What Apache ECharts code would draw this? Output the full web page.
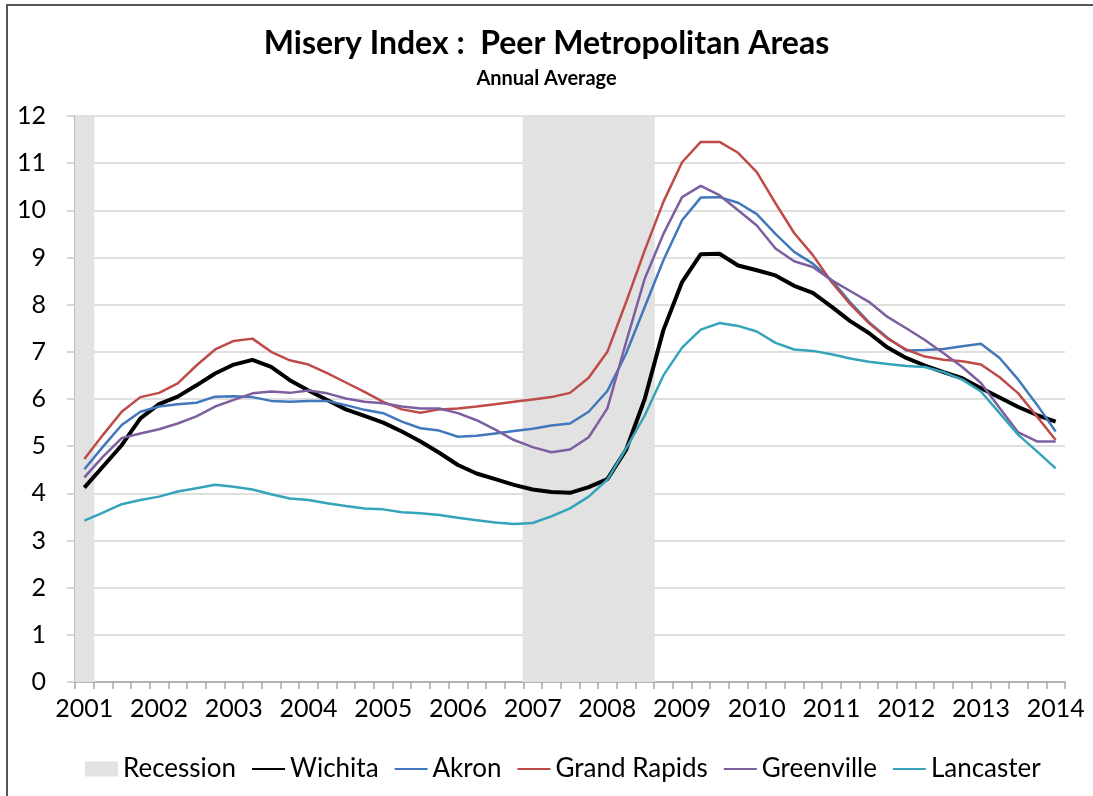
<!DOCTYPE html>
<html>
<head>
<meta charset="utf-8">
<script src="https://cdn.jsdelivr.net/npm/echarts@6/dist/echarts.min.js"></script>
<style>
html,body{margin:0;padding:0;background:#fff;}
#chart{width:1093px;height:796px;}
</style>
</head>
<body>
<div id="chart"></div>
<script>
// Tick labels (years) and quarterly categories
var years = ['2001','2002','2003','2004','2005','2006','2007','2008','2009','2010','2011','2012','2013','2014'];
var quarters = ['Q1','Q2','Q3','Q4'];

// Recession quarters: 2001Q1 and 2007Q1–2008Q3
var recessionQuarters = ['2001Q1','2007Q1','2007Q2','2007Q3','2007Q4','2008Q1','2008Q2','2008Q3'];

var wichita = [4.12,4.57,5.02,5.59,5.89,6.05,6.29,6.54,6.73,6.83,6.68,6.40,6.18,5.98,5.78,5.64,5.50,5.31,5.10,4.86,4.60,4.42,4.30,4.18,4.08,4.03,4.01,4.13,4.30,4.92,6.00,7.46,8.48,9.07,9.08,8.83,8.73,8.62,8.40,8.25,7.96,7.65,7.40,7.09,6.87,6.71,6.57,6.44,6.23,6.03,5.83,5.66,5.52];
var akron = [4.51,4.99,5.45,5.73,5.84,5.89,5.92,6.05,6.06,6.04,5.96,5.94,5.96,5.96,5.87,5.77,5.70,5.52,5.38,5.33,5.20,5.22,5.27,5.32,5.37,5.44,5.48,5.73,6.17,6.96,7.95,8.94,9.79,10.27,10.28,10.16,9.92,9.50,9.12,8.87,8.52,8.05,7.63,7.30,7.03,7.04,7.06,7.12,7.17,6.87,6.41,5.88,5.31];
var grandRapids = [4.73,5.24,5.73,6.04,6.13,6.33,6.71,7.05,7.23,7.28,7.00,6.82,6.73,6.55,6.35,6.15,5.94,5.78,5.71,5.78,5.80,5.84,5.89,5.94,5.99,6.04,6.13,6.45,7.00,8.05,9.15,10.18,11.02,11.45,11.45,11.22,10.81,10.15,9.52,9.05,8.48,8.01,7.61,7.28,7.05,6.90,6.83,6.80,6.73,6.46,6.12,5.63,5.13];
var greenville = [4.34,4.78,5.17,5.27,5.36,5.48,5.63,5.84,5.98,6.12,6.16,6.13,6.18,6.12,6.01,5.94,5.91,5.84,5.80,5.80,5.70,5.55,5.35,5.13,4.98,4.87,4.93,5.19,5.80,7.20,8.55,9.50,10.28,10.52,10.32,10.00,9.68,9.19,8.92,8.80,8.52,8.29,8.06,7.74,7.50,7.25,6.97,6.68,6.34,5.81,5.29,5.10,5.10];
var lancaster = [3.42,3.59,3.77,3.86,3.93,4.04,4.11,4.18,4.14,4.08,3.98,3.89,3.86,3.79,3.73,3.68,3.66,3.60,3.58,3.54,3.48,3.43,3.38,3.35,3.37,3.51,3.68,3.93,4.29,4.95,5.65,6.50,7.09,7.47,7.61,7.55,7.43,7.19,7.05,7.02,6.95,6.86,6.79,6.74,6.70,6.68,6.57,6.41,6.16,5.70,5.24,4.89,4.53];

var categories = [];
years.forEach(function(y){ quarters.forEach(function(q){ categories.push(y + q); }); });
categories = categories.slice(0, wichita.length);

var recession = categories.map(function(c){ return recessionQuarters.indexOf(c) >= 0 ? 12 : null; });

var FONT = 'Lato, "Open Sans", sans-serif';
var chart = echarts.init(document.getElementById('chart'), null, {renderer:'canvas'});

function lineSeries(name, data, color, width){
  return {name:name, type:'line', data:data, symbol:'none', showSymbol:false, smooth:false,
    lineStyle:{color:color, width:width}, itemStyle:{color:color}, z:3, animation:false};
}
function legendLine(name){ return {name:name, itemStyle:{opacity:0}}; }

chart.setOption({
  animation:false,
  backgroundColor:'#fff',
  title:[
    {text:'Misery Index :  Peer Metropolitan Areas', left:'center', top:23,
     textStyle:{fontFamily:FONT, fontSize:32, fontWeight:'bold', color:'#000'}},
    {text:'Annual Average', left:'center', top:64,
     textStyle:{fontFamily:FONT, fontSize:20, fontWeight:'bold', color:'#000'}}
  ],
  graphic:[{type:'rect', shape:{x:7, y:5, width:1200, height:900},
    style:{fill:'none', stroke:'#555', lineWidth:2}, silent:true, z:100}],
  grid:{left:75, right:28, top:116, bottom:114, containLabel:false},
  legend:{
    top:751, left:80, itemWidth:33, itemHeight:15, itemGap:15,
    textStyle:{fontFamily:FONT, fontSize:26, color:'#000'},
    data:[{name:'Recession', icon:'rect'}, legendLine('Wichita'), legendLine('Akron'),
          legendLine('Grand Rapids'), legendLine('Greenville'), legendLine('Lancaster')]
  },
  xAxis:{
    type:'category', data:categories, boundaryGap:true,
    axisLine:{show:true, lineStyle:{color:'#a6a6a6', width:1.5}},
    axisTick:{show:true, interval:0, length:7, lineStyle:{color:'#a6a6a6', width:1.5}},
    axisLabel:{interval:3, margin:14, fontFamily:FONT, fontSize:25, color:'#000',
      formatter:function(v){ return v.slice(0,4); }},
    splitLine:{show:false}
  },
  yAxis:{
    type:'value', min:0, max:12, interval:1,
    axisLine:{show:true, lineStyle:{color:'#a6a6a6', width:1.5}},
    axisTick:{show:true, length:8, lineStyle:{color:'#c8c8c8', width:1.5}},
    axisLabel:{margin:29, fontFamily:FONT, fontSize:25, color:'#000'},
    splitLine:{show:true, lineStyle:{color:'#d4d4d4', width:1.5}}
  },
  series:[
    {name:'Recession', type:'bar', data:recession, barWidth:'108%', barGap:'0%',
     itemStyle:{color:'#e2e2e2'}, z:1, silent:true},
    lineSeries('Wichita', wichita, '#000000', 4),
    lineSeries('Akron', akron, '#4178BC', 2.5),
    lineSeries('Grand Rapids', grandRapids, '#BE4B48', 2.5),
    lineSeries('Greenville', greenville, '#7D5FA0', 2.5),
    lineSeries('Lancaster', lancaster, '#35A3BA', 2.5)
  ]
});
</script>
</body>
</html>
